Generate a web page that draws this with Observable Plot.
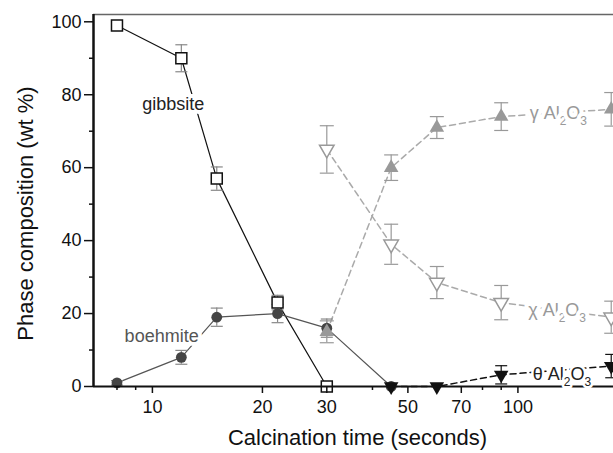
<!DOCTYPE html>
<html><head><meta charset="utf-8">
<script src="https://cdn.jsdelivr.net/npm/d3@7"></script>
<script src="https://cdn.jsdelivr.net/npm/@observablehq/plot@0.6"></script>
<style>html,body{margin:0;padding:0;background:#fff;} svg{display:block}</style>
</head><body><div id="chart"></div>
<script>
// ---- data ----
const gibbsiteTime = [8, 12, 15, 22, 30];
const gibbsite     = [99, 90, 57, 23, 0];
const gibbsiteErr  = [1, 3.7, 3.2, 2, 0];

const boehmiteTime = [8, 12, 15, 22, 30, 45];
const boehmite     = [1, 8, 19, 20, 16, 0];
const boehmiteErr  = [0.6, 1.9, 2.5, 2.5, 2.5, 0];

const gammaTime = [30, 45, 60, 90, 180];
const gamma     = [15, 60, 71, 74, 76];
const gammaErr  = [3, 3.5, 3, 3.8, 4.6];

const chiTime = [30, 45, 60, 90, 180];
const chi     = [65, 39, 28.5, 23, 19];
const chiErr  = [6.5, 5.5, 4.4, 4.7, 4.4];

const thetaTime = [45, 60, 90, 180];
const theta     = [0, 0, 3.2, 5.6];
const thetaErr  = [0, 0, 2.5, 3.2];

const xMajorTicks = [10, 20, 30, 50, 70, 100];
const xMinorTicks = [8, 9, 40, 60, 80, 90];
const yMajorTicks = [0, 20, 40, 60, 80, 100];
const yMinorTicks = [10, 30, 50, 70, 90];

const labelText  = ["gibbsite", "boehmite", "γ Al2O3", "χ Al2O3", "θ Al2O3"];
const labelTime  = [11.4, 10.6, 129, 128, 132];
const labelValue = [77.5, 13.7, 75, 21, 3.3];
const labelColor = ["#222", "#555", "#999", "#999", "#222"];

const xTitle = "Calcination time (seconds)";
const yTitle = "Phase composition (wt %)";

// ---- helpers ----
const rows = (t, v, e) => t.map((x, i) => ({x, y: v[i], e: e[i]}));
const capSymbol = (w) => ({draw(ctx) { ctx.moveTo(-w / 2, 0); ctx.lineTo(w / 2, 0); }});
const triDown = {draw(ctx, size) {
  const y = Math.sqrt(size / (Math.sqrt(3) * 3));
  ctx.moveTo(0, 2 * y); ctx.lineTo(-Math.sqrt(3) * y, -y); ctx.lineTo(Math.sqrt(3) * y, -y); ctx.closePath();
}};

const series = [
  {data: rows(gibbsiteTime, gibbsite, gibbsiteErr), line: "#111", dash: null, lw: 1.2, err: "#888", cap: 12,
   sym: "square", r: 6.2, fill: "white", stroke: "#111"},
  {data: rows(boehmiteTime, boehmite, boehmiteErr), line: "#555", dash: null, lw: 1.2, err: "#888", cap: 12,
   sym: "circle", r: 5.4, fill: "#444", stroke: "none"},
  {data: rows(gammaTime, gamma, gammaErr), line: "#aaa", dash: "6,4", lw: 1.5, err: "#999", cap: 14,
   sym: "triangle", r: 5.4, fill: "#999", stroke: "none"},
  {data: rows(chiTime, chi, chiErr), line: "#aaa", dash: "6,4", lw: 1.5, err: "#999", cap: 14,
   sym: triDown, r: 5.4, fill: "white", stroke: "#999"},
  {data: rows(thetaTime, theta, thetaErr), line: "#111", dash: "6,4", lw: 1.5, err: "#111", cap: 12,
   sym: triDown, r: 5.4, fill: "#111", stroke: "none"}
];

const marks = [];
// frame top line
marks.push(Plot.ruleY([102], {stroke: "#666", strokeWidth: 1.5}));
// lines
for (const s of series) {
  marks.push(Plot.line(s.data, {x: "x", y: "y", stroke: s.line, strokeWidth: s.lw, strokeDasharray: s.dash}));
}
// error bars
for (const s of series) {
  const d = s.data.filter(r => r.e > 0);
  marks.push(Plot.ruleX(d, {x: "x", y1: r => r.y - r.e, y2: r => r.y + r.e, stroke: s.err, strokeWidth: 1.2}));
  marks.push(Plot.dot(d, {x: "x", y: r => r.y + r.e, symbol: capSymbol(s.cap), r: 2, stroke: s.err, fill: "none", strokeWidth: 1.2}));
  marks.push(Plot.dot(d, {x: "x", y: r => r.y - r.e, symbol: capSymbol(s.cap), r: 2, stroke: s.err, fill: "none", strokeWidth: 1.2}));
}
// markers
for (const s of series) {
  marks.push(Plot.dot(s.data, {x: "x", y: "y", symbol: s.sym, r: s.r, fill: s.fill, stroke: s.stroke, strokeWidth: 1.5}));
}
// axes
marks.push(Plot.ruleX([6.9], {stroke: "#111", strokeWidth: 2.5}));
marks.push(Plot.ruleY([0], {stroke: "#111", strokeWidth: 2}));
marks.push(Plot.axisX({ticks: xMajorTicks, tickFormat: d => String(d), tickSize: 7, tickPadding: 7, fontSize: 18, strokeWidth: 1.5, label: null}));
marks.push(Plot.axisX({ticks: xMinorTicks, tickFormat: () => "", tickSize: 4, strokeWidth: 1.5, label: null}));
marks.push(Plot.axisY({ticks: yMajorTicks, tickFormat: d => String(d), tickSize: 9, tickPadding: 3, fontSize: 18, strokeWidth: 1.5, label: null}));
marks.push(Plot.axisY({ticks: yMinorTicks, tickFormat: () => "", tickSize: 4, strokeWidth: 1.5, label: null}));
// annotations
const labels = labelText.map((t, i) => ({t, x: labelTime[i], y: labelValue[i], c: labelColor[i]}));
const upper = labels.slice(0, 4), lower = labels.slice(4);
marks.push(Plot.text(upper, {x: "x", y: "y", text: "t", fill: "c", fontSize: 18, stroke: "white", strokeWidth: 8, paintOrder: "stroke", strokeLinejoin: "round"}));
marks.push(Plot.text(lower, {x: "x", y: "y", text: "t", fill: "c", fontSize: 18, stroke: "white", strokeWidth: 5, paintOrder: "stroke", strokeLinejoin: "round"}));
// axis titles
marks.push(Plot.text([yTitle], {text: d => d, frameAnchor: "left", textAnchor: "middle", lineAnchor: "middle", rotate: -90, dx: -68, dy: 13, fontSize: 22, fill: "#111"}));
marks.push(Plot.text([xTitle], {text: d => d, frameAnchor: "bottom", textAnchor: "middle", lineAnchor: "middle", dx: 4, dy: 51, fontSize: 22, fill: "#111"}));

const svg = Plot.plot({
  width: 613, height: 453,
  marginLeft: 93, marginRight: 0, marginTop: 14, marginBottom: 67,
  style: {fontFamily: "'Liberation Sans', Arial, Helvetica, sans-serif", background: "white", color: "#111"},
  x: {type: "log", domain: [6.9, 182.6]},
  y: {domain: [0, 102]},
  marks
});

// subscripts for Al2O3
d3.select(svg).selectAll("text").each(function () {
  const m = this.textContent.match(/^(.*Al)2O3$/);
  if (!m) return;
  const sel = d3.select(this);
  sel.text(null);
  sel.append("tspan").text(m[1]);
  sel.append("tspan").attr("dy", 6).attr("font-size", 12).text("2");
  sel.append("tspan").attr("dy", -6).text("O");
  sel.append("tspan").attr("dy", 6).attr("font-size", 12).text("3");
});

document.getElementById("chart").appendChild(svg);
</script></body></html>
